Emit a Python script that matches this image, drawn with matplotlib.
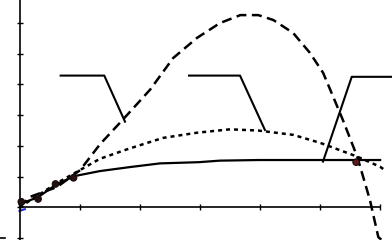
import numpy as np
import matplotlib
matplotlib.use("Agg")
import matplotlib.pyplot as plt
from matplotlib.lines import Line2D

meas_x = [0.03, 0.31, 0.6, 0.9, 5.61]
meas_y = [0.18, 0.27, 0.76, 0.96, 1.47]
meas_c = ["#201010", "#201010", "#201010", "#2a1212", "#5a1a1a"]

# solid fit
solid_x = [0.0, 0.31, 0.625, 0.925, 1.34, 1.84, 2.34, 2.99, 3.34, 3.99, 5.01, 6.01]
solid_y = [0.1, 0.33, 0.76, 1.02, 1.18, 1.31, 1.43, 1.47, 1.52, 1.54, 1.54, 1.54]

# dotted fit
dot_x = [0.0, 0.625, 1.34, 1.81, 2.39, 2.96, 3.51, 3.98, 4.56, 5.01, 5.63, 6.01, 6.09]
dot_y = [0.0, 0.79, 1.58, 1.90, 2.26, 2.43, 2.54, 2.50, 2.36, 2.10, 1.65, 1.32, 1.21]

# dashed fit
dash_x = [0.0, 0.175, 0.625, 1.01, 1.34, 1.72, 2.18, 2.56, 2.96, 3.34, 3.68, 3.98,
          4.23, 4.56, 4.84, 5.06, 5.23, 5.39, 5.63, 5.84, 5.98, 6.04]
dash_y = [0.0, 0.34, 0.66, 1.21, 2.05, 2.85, 3.84, 4.86, 5.52, 6.0, 6.26, 6.26,
          6.10, 5.68, 5.03, 4.38, 3.59, 2.84, 1.64, 0.24, -0.97, -1.07]

# short blue piece near origin
blue_x = [0.0, 0.09]
blue_y = [-0.12, -0.06]

# callout leaders
callouts = [
    ([0.686, 1.413, 1.758], [4.29, 4.29, 2.79]),
    ([2.825, 3.675, 4.09], [4.29, 4.29, 2.52]),
    ([6.21, 5.537, 5.058], [4.25, 4.25, 1.49]),
]

fig = plt.figure(figsize=(3.92, 2.40), dpi=100)
ax = fig.add_axes([0, 0, 1, 1])
ax.set_xlim(-0.325, 6.208)
ax.set_ylim(-1.065, 6.752)

ax.plot(dash_x, dash_y, color="black", lw=1.8, linestyle=(0, (4, 2.2)))
ax.plot(dot_x, dot_y, color="black", lw=1.8, linestyle=(0, (1.6, 1.6)))
ax.plot(solid_x, solid_y, color="black", lw=1.6)
ax.plot(blue_x, blue_y, color="#2030d0", lw=1.5)
ax.scatter(meas_x, meas_y, s=22, c=meas_c, marker="o", edgecolors="#180808",
           linewidths=0.8, zorder=3)

for cx, cy in callouts:
    ax.plot(cx, cy, color="black", lw=1.5, clip_on=False)

for side in ["top", "right"]:
    ax.spines[side].set_visible(False)
ax.spines["left"].set_position(("data", 0))
ax.spines["bottom"].set_position(("data", 0))
ax.spines["bottom"].set_bounds(0, 6)
ax.spines["left"].set_linewidth(1.2)
ax.spines["bottom"].set_linewidth(1.2)

ax.set_xticks(range(0, 7))
ax.set_yticks(range(-1, 7))
ax.tick_params(direction="inout", length=5, width=1, labelleft=False, labelbottom=False)

fig.add_artist(Line2D([0.0, 0.013], [0.008, 0.008], color="black", lw=1.2,
                      transform=fig.transFigure))

fig.savefig("out.png", dpi=100)
